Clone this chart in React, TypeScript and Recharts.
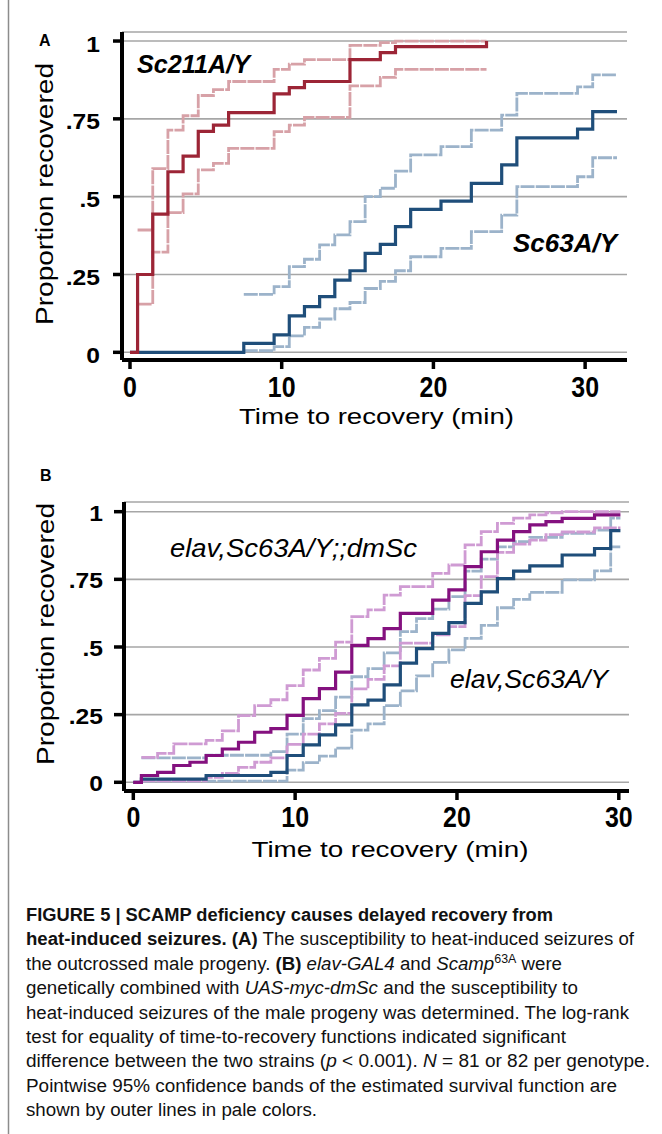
import React from "react";
import { LineChart, Line, XAxis, YAxis, CartesianGrid } from "recharts";

const FONT = "'Liberation Sans', Arial, Helvetica, sans-serif";

const RED = "#9c2536";
const RED_PALE = "#d7a1a7";
const BLUE = "#1f4e7a";
const BLUE_PALE = "#9cb3ca";
const PURPLE = "#84117f";
const PURPLE_PALE = "#cf9bd3";

// axis ticks
const xTicksA = [0, 10, 20, 30];
const xTicksB = [0, 10, 20, 30];
const yTicks = [0, 0.25, 0.5, 0.75, 1];
const yTickLabels = ["0", ".25", ".5", ".75", "1"];

// ---- panel A: Sc211A/Y (red) ----
const aRedTimes = [0, 0.5, 1.5, 2.5, 3.5, 4.5, 5.5, 6.5, 9.5, 10.5, 11.5, 14.5, 16.5, 17.5, 23.5];
const aRedMain = [0, 0.25, 0.444, 0.58, 0.63, 0.71, 0.73, 0.77, 0.83, 0.85, 0.87, 0.94, 0.963, 0.982, 1.0];
const aRedBandTimes = [0.5, 1.5, 2.5, 3.5, 4.5, 5.5, 6.5, 9.5, 10.5, 11.5, 14.5, 16.5, 17.5, 23.5];
const aRedUpper = [0.393, 0.59, 0.714, 0.76, 0.825, 0.844, 0.87, 0.909, 0.926, 0.94, 0.986, 0.995, 1.0, 1.0];
const aRedLower = [0.155, 0.322, 0.449, 0.509, 0.586, 0.607, 0.655, 0.709, 0.73, 0.755, 0.856, 0.883, 0.909, 0.909];

// ---- panel A: Sc63A/Y (blue) ----
const aBlueTimes = [0, 7.5, 9.5, 10.5, 11.5, 12.5, 13.5, 14.5, 15.5, 16.5, 17.5, 18.5, 20.5, 22.5, 24.5, 25.5, 29.5, 30.5, 32.1];
const aBlueMain = [0, 0.029, 0.056, 0.117, 0.147, 0.179, 0.232, 0.262, 0.318, 0.347, 0.404, 0.459, 0.486, 0.543, 0.602, 0.689, 0.717, 0.773, 0.773];
const aBlueBandTimes = [7.5, 9.5, 10.5, 11.5, 12.5, 13.5, 14.5, 15.5, 16.5, 17.5, 18.5, 20.5, 22.5, 24.5, 25.5, 29.5, 30.5, 32.1];
const aBlueUpper = [0.186, 0.211, 0.275, 0.299, 0.345, 0.377, 0.42, 0.5, 0.527, 0.582, 0.634, 0.661, 0.714, 0.762, 0.832, 0.853, 0.891, 0.891];
const aBlueLower = [0.005, 0.018, 0.053, 0.08, 0.107, 0.14, 0.16, 0.205, 0.228, 0.262, 0.307, 0.334, 0.388, 0.441, 0.532, 0.564, 0.625, 0.625];

// ---- panel B: shared step times ----
const bTimes = [0, 0.5, 1.5, 2.5, 3.5, 4.5, 5.5, 6.5, 7.5, 8.5, 9.5, 10.5, 11.5, 12.5, 13.5, 14.5, 15.5, 16.5, 17.5, 18.5, 19.5, 20.5, 21.5, 22.5, 23.5, 24.5, 25.5, 26.5, 27.5, 28.5, 29.5, 30.1];
// elav,Sc63A/Y;;dmSc (purple)
const bPurpleMain = [0, 0.025, 0.037, 0.062, 0.074, 0.099, 0.123, 0.148, 0.185, 0.198, 0.247, 0.309, 0.346, 0.407, 0.506, 0.531, 0.568, 0.624, 0.624, 0.673, 0.711, 0.797, 0.852, 0.895, 0.926, 0.951, 0.963, 0.975, 0.975, 0.988, 0.988, 0.988];
const bPurpleUpper = [null, 0.092, 0.107, 0.142, 0.142, 0.155, 0.19, 0.246, 0.283, 0.305, 0.357, 0.415, 0.458, 0.518, 0.612, 0.637, 0.692, 0.723, 0.723, 0.772, 0.803, 0.877, 0.926, 0.957, 0.976, 0.988, 0.996, 1, 1, 1, 1, 1];
const bPurpleLower = [null, 0.005, 0.005, 0.005, 0.005, 0.018, 0.033, 0.055, 0.074, 0.09, 0.14, 0.178, 0.216, 0.255, 0.345, 0.38, 0.43, 0.514, 0.514, 0.545, 0.575, 0.69, 0.76, 0.85, 0.88, 0.895, 0.915, 0.925, 0.925, 0.94, 0.94, 0.94];
// elav,Sc63A/Y (blue)
const bBlueMain = [0, 0.012, 0.012, 0.012, 0.012, 0.025, 0.025, 0.025, 0.025, 0.037, 0.099, 0.138, 0.175, 0.212, 0.286, 0.304, 0.36, 0.44, 0.494, 0.55, 0.59, 0.661, 0.704, 0.753, 0.78, 0.8, 0.8, 0.84, 0.84, 0.864, 0.93, 0.93];
const bBlueUpper = [null, 0.09, 0.09, 0.09, 0.09, 0.1, 0.1, 0.1, 0.1, 0.113, 0.178, 0.235, 0.265, 0.315, 0.39, 0.42, 0.478, 0.557, 0.605, 0.64, 0.686, 0.78, 0.825, 0.87, 0.889, 0.905, 0.905, 0.92, 0.92, 0.932, 0.976, 0.976];
const bBlueLower = [null, 0.004, 0.004, 0.004, 0.004, 0.004, 0.004, 0.004, 0.004, 0.004, 0.045, 0.073, 0.097, 0.126, 0.193, 0.216, 0.283, 0.338, 0.393, 0.443, 0.489, 0.532, 0.58, 0.645, 0.676, 0.702, 0.702, 0.748, 0.748, 0.781, 0.87, 0.87];

const toPoints = (times: number[], vals: (number | null)[]) =>
  times.map((t, i) => ({ t, p: vals[i] }));

const XTick = (props: any) => {
  const { x, y, payload, dy } = props;
  return (
    <g transform={`translate(${x},${y + dy})`}>
      <text
        transform="scale(0.86,1)"
        textAnchor="middle"
        fontFamily={FONT}
        fontWeight="bold"
        fontSize={29}
        fill="#000"
      >
        {payload.value}
      </text>
    </g>
  );
};

const YTick = (props: any) => {
  const { x, y, payload, dy } = props;
  const idx = yTicks.indexOf(payload.value);
  return (
    <g transform={`translate(${x},${y + dy})`}>
      <text
        transform="scale(1.12,1)"
        textAnchor="end"
        fontFamily={FONT}
        fontWeight="bold"
        fontSize={22}
        fill="#000"
      >
        {yTickLabels[idx]}
      </text>
    </g>
  );
};

const axisLine = { stroke: "#000", strokeWidth: 4 };
const tickLine = { stroke: "#000", strokeWidth: 3.5 };

function step(key: string, data: any[], color: string, pale: boolean) {
  return (
    <Line
      key={key}
      data={data}
      dataKey="p"
      type="stepAfter"
      stroke={color}
      strokeWidth={pale ? 2.8 : 3.2}
      strokeDasharray={pale ? "14 1.2" : undefined}
      dot={false}
      activeDot={false}
      connectNulls={false}
      isAnimationActive={false}
    />
  );
}

function PanelA() {
  return (
    <LineChart width={662} height={440} margin={{ top: 32, right: 35, bottom: 10, left: 0 }}>
      <CartesianGrid vertical={false} stroke="#a6a6a6" strokeWidth={1.6} />
      <XAxis
        dataKey="t"
        type="number"
        domain={[-0.527, 32.76]}
        allowDataOverflow
        ticks={xTicksA}
        height={70}
        axisLine={axisLine}
        tickLine={tickLine}
        tickSize={9}
        tickMargin={0}
        tick={(p: any) => <XTick {...p} dy={28} />}
      />
      <YAxis
        type="number"
        domain={[-0.0247, 1.029]}
        allowDataOverflow
        ticks={yTicks}
        width={122}
        axisLine={axisLine}
        tickLine={tickLine}
        tickSize={9}
        tickMargin={13}
        tick={(p: any) => <YTick {...p} dy={10.5} />}
      />
      {step("abu", toPoints(aBlueBandTimes, aBlueUpper), BLUE_PALE, true)}
      {step("abl", toPoints(aBlueBandTimes, aBlueLower), BLUE_PALE, true)}
      {step("abm", toPoints(aBlueTimes, aBlueMain), BLUE, false)}
      {step("aru", toPoints(aRedBandTimes, aRedUpper), RED_PALE, true)}
      {step("arl", toPoints(aRedBandTimes, aRedLower), RED_PALE, true)}
      {step("arm", toPoints(aRedTimes, aRedMain), RED, false)}
    </LineChart>
  );
}

function PanelB() {
  return (
    <LineChart width={662} height={440} margin={{ top: 62, right: 33, bottom: 14, left: 0 }}>
      <CartesianGrid vertical={false} stroke="#a6a6a6" strokeWidth={1.6} />
      <XAxis
        dataKey="t"
        type="number"
        domain={[-0.575, 30.63]}
        allowDataOverflow
        ticks={xTicksB}
        height={75}
        axisLine={axisLine}
        tickLine={tickLine}
        tickSize={9}
        tickMargin={0}
        tick={(p: any) => <XTick {...p} dy={27} />}
      />
      <YAxis
        type="number"
        domain={[-0.0322, 1.0358]}
        allowDataOverflow
        ticks={yTicks}
        width={124}
        axisLine={axisLine}
        tickLine={tickLine}
        tickSize={10}
        tickMargin={11}
        tick={(p: any) => <YTick {...p} dy={9} />}
      />
      {step("bbu", toPoints(bTimes, bBlueUpper), BLUE_PALE, true)}
      {step("bbl", toPoints(bTimes, bBlueLower), BLUE_PALE, true)}
      {step("bpu", toPoints(bTimes, bPurpleUpper), PURPLE_PALE, true)}
      {step("bpl", toPoints(bTimes, bPurpleLower), PURPLE_PALE, true)}
      {step("bbm", toPoints(bTimes, bBlueMain), BLUE, false)}
      {step("bpm", toPoints(bTimes, bPurpleMain), PURPLE, false)}
    </LineChart>
  );
}

function Overlay() {
  const cap = { fontFamily: FONT, fontSize: 18, fill: "#111" };
  return (
    <svg
      width={662}
      height={1134}
      style={{ position: "absolute", left: 0, top: 0, pointerEvents: "none" }}
    >
      <line x1={8.5} y1={0} x2={8.5} y2={1134} stroke="#8c8c8c" strokeWidth={1.5} />

      <text x={39} y={46} fontFamily={FONT} fontWeight="bold" fontSize={16}>A</text>
      <text x={40} y={481} fontFamily={FONT} fontWeight="bold" fontSize={16}>B</text>

      <text transform="translate(53,194) rotate(-90)" textAnchor="middle" fontFamily={FONT} fontSize={23} textLength={262} lengthAdjust="spacingAndGlyphs">
        Proportion recovered
      </text>
      <text transform="translate(54,634) rotate(-90)" textAnchor="middle" fontFamily={FONT} fontSize={23} textLength={262} lengthAdjust="spacingAndGlyphs">
        Proportion recovered
      </text>
      <text x={376.5} y={424} textAnchor="middle" fontFamily={FONT} fontSize={22} textLength={275} lengthAdjust="spacingAndGlyphs">
        Time to recovery (min)
      </text>
      <text x={390} y={857} textAnchor="middle" fontFamily={FONT} fontSize={22} textLength={277} lengthAdjust="spacingAndGlyphs">
        Time to recovery (min)
      </text>

      <text x={137} y={72.5} fontFamily={FONT} fontWeight="bold" fontStyle="italic" fontSize={26} textLength={113} lengthAdjust="spacingAndGlyphs">
        Sc211A/Y
      </text>
      <text x={617} y={251.5} textAnchor="end" fontFamily={FONT} fontWeight="bold" fontStyle="italic" fontSize={26} textLength={104} lengthAdjust="spacingAndGlyphs">
        Sc63A/Y
      </text>
      <text x={170} y={556.5} fontFamily={FONT} fontStyle="italic" fontSize={25} textLength={247} lengthAdjust="spacingAndGlyphs">
        elav,Sc63A/Y;;dmSc
      </text>
      <text x={450} y={687.5} fontFamily={FONT} fontStyle="italic" fontSize={25} textLength={158} lengthAdjust="spacingAndGlyphs">
        elav,Sc63A/Y
      </text>

      <text x={26} y={921} {...cap} fontWeight="bold" textLength={527} lengthAdjust="spacingAndGlyphs">
        FIGURE 5 | SCAMP deficiency causes delayed recovery from
      </text>
      <text x={26} y={945.4} {...cap} textLength={608} lengthAdjust="spacingAndGlyphs">
        <tspan fontWeight="bold">heat-induced seizures. (A)</tspan> The susceptibility to heat-induced seizures of
      </text>
      <text x={26} y={969.8} {...cap} textLength={536} lengthAdjust="spacingAndGlyphs">
        the outcrossed male progeny. <tspan fontWeight="bold">(B)</tspan> <tspan fontStyle="italic">elav-GAL4</tspan> and <tspan fontStyle="italic">Scamp</tspan>
        <tspan fontSize={12} dy={-7}>63A</tspan>
        <tspan dy={7}> were</tspan>
      </text>
      <text x={26} y={994.2} {...cap} textLength={552} lengthAdjust="spacingAndGlyphs">
        genetically combined with <tspan fontStyle="italic">UAS-myc-dmSc</tspan> and the susceptibility to
      </text>
      <text x={26} y={1018.6} {...cap} textLength={603} lengthAdjust="spacingAndGlyphs">
        heat-induced seizures of the male progeny was determined. The log-rank
      </text>
      <text x={26} y={1043} {...cap} textLength={540} lengthAdjust="spacingAndGlyphs">
        test for equality of time-to-recovery functions indicated significant
      </text>
      <text x={26} y={1067.4} {...cap} textLength={624} lengthAdjust="spacingAndGlyphs">
        difference between the two strains (<tspan fontStyle="italic">p</tspan> &lt; 0.001). <tspan fontStyle="italic">N</tspan> = 81 or 82 per genotype.
      </text>
      <text x={26} y={1091.8} {...cap} textLength={591} lengthAdjust="spacingAndGlyphs">
        Pointwise 95% confidence bands of the estimated survival function are
      </text>
      <text x={26} y={1116.2} {...cap} textLength={291} lengthAdjust="spacingAndGlyphs">
        shown by outer lines in pale colors.
      </text>
    </svg>
  );
}

export default function App() {
  return (
    <div
      style={{
        position: "absolute",
        left: 0,
        top: 0,
        width: 662,
        height: 1134,
        background: "#fff",
        fontFamily: FONT,
      }}
    >
      <div style={{ position: "absolute", left: 0, top: 0 }}>
        <PanelA />
      </div>
      <div style={{ position: "absolute", left: 0, top: 440 }}>
        <PanelB />
      </div>
      <Overlay />
    </div>
  );
}
